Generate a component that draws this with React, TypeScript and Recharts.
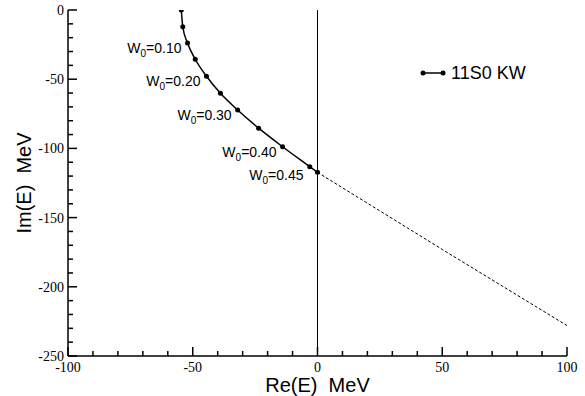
import React from "react";
import {
  ComposedChart,
  Line,
  XAxis,
  YAxis,
  ReferenceLine,
  LabelList,
  Legend,
} from "recharts";

// trajectory of the pole, W0 stepping upward
const reE = [-54.6, -54.0, -52.1, -49.0, -44.5, -38.9, -32.0, -23.6, -14.0, -3.1, 0];
const imE = [0, -12.1, -23.8, -35.6, -47.9, -60.2, -72.3, -85.4, -98.8, -113.2, -117.3];
const w0Labels = [null, null, "0.10", null, "0.20", null, "0.30", null, "0.40", null, "0.45"];

// dashed continuation
const extRe = [0, 50, 100];
const extIm = [-117.3, -173, -228];

const xTicks = [-100, -90, -80, -70, -60, -50, -40, -30, -20, -10, 0, 10, 20, 30, 40, 50, 60, 70, 80, 90, 100];
const xMajor = [-100, -50, 0, 50, 100];
const yTicks = [
  -250, -240, -230, -220, -210, -200, -190, -180, -170, -160, -150, -140, -130, -120, -110,
  -100, -90, -80, -70, -60, -50, -40, -30, -20, -10, 0,
];
const yMajor = [-250, -200, -150, -100, -50, 0];

const curve = reE.map((re, i) => ({ re, im: imE[i], w0: w0Labels[i] }));
const dashed = extRe.map((re, i) => ({ re, im: extIm[i] }));

const SERIF = '"Liberation Serif", "Times New Roman", Times, "DejaVu Serif", serif';
const SANS = '"Liberation Sans", Arial, Helvetica, sans-serif';

const serifStyle = { fontFamily: SERIF, fontSize: 14, fill: "#000" };
const sansStyle = { fontFamily: SANS, fill: "#000" };

function makeTick(side: "bottom" | "top" | "left" | "right", major: number[]) {
  return (props: any) => {
    const { x, y, payload } = props;
    const v = payload.value;
    const isMajor = major.includes(v);
    const len = isMajor ? 9 : 5;
    let line;
    let label = null;
    if (side === "bottom") {
      line = <line x1={x} y1={y} x2={x} y2={y - len} stroke="#000" strokeWidth={1.5} />;
      if (isMajor)
        label = (
          <text x={x} y={y + 16} textAnchor="middle" style={serifStyle}>
            {v}
          </text>
        );
    } else if (side === "top") {
      line = <line x1={x} y1={y} x2={x} y2={y + len} stroke="#000" strokeWidth={1.5} />;
    } else if (side === "left") {
      line = <line x1={x} y1={y} x2={x + len} y2={y} stroke="#000" strokeWidth={1.5} />;
      if (isMajor)
        label = (
          <text x={x - 4} y={y + 5} textAnchor="end" style={serifStyle}>
            {v}
          </text>
        );
    } else {
      line = <line x1={x} y1={y} x2={x - len} y2={y} stroke="#000" strokeWidth={1.5} />;
    }
    return (
      <g>
        {line}
        {label}
      </g>
    );
  };
}

const XTitle = (props: any) => {
  const { x, y, width } = props.viewBox;
  return (
    <text x={x + width / 2} y={y + 36} textAnchor="middle" xmlSpace="preserve" style={{ ...sansStyle, fontSize: 20 }}>
      {"Re(E)  MeV"}
    </text>
  );
};

const YTitle = (props: any) => {
  const { y, height } = props.viewBox;
  const cx = 31;
  const cy = y + height / 2;
  return (
    <text
      x={cx}
      y={cy}
      textAnchor="middle"
      xmlSpace="preserve"
      transform={`rotate(-90, ${cx}, ${cy})`}
      style={{ ...sansStyle, fontSize: 20 }}
    >
      {"Im(E)  MeV"}
    </text>
  );
};

const W0Label = (props: any) => {
  const { x, y, value } = props;
  if (!value) return null;
  const last = value === "0.45";
  const dx = last ? -14 : -6;
  const dy = last ? 3 : 5;
  return (
    <text x={x + dx} y={y + dy + 5} textAnchor="end" style={{ ...sansStyle, fontSize: 14 }}>
      W
      <tspan style={{ fontSize: 10 }} dy={4}>0</tspan>
      <tspan dy={-4}>={value}</tspan>
    </text>
  );
};

const LegendBox = () => (
  <svg width={120} height={22}>
    <line x1={5} y1={11} x2={25} y2={11} stroke="#000" strokeWidth={1.5} />
    <circle cx={5} cy={11} r={2.5} fill="#000" />
    <circle cx={25} cy={11} r={2.5} fill="#000" />
    <text x={33} y={17} style={{ ...sansStyle, fontSize: 18 }}>
      11S0 KW
    </text>
  </svg>
);

export default function App() {
  return (
    <div style={{ position: "absolute", left: 0, top: 0, width: 585, height: 396, background: "#fff" }}>
      <ComposedChart width={585} height={396} margin={{ top: 10, right: 18, bottom: 0, left: 0 }}>
        <XAxis
          dataKey="re"
          type="number"
          domain={[-100, 100]}
          allowDataOverflow
          ticks={xTicks}
          interval={0}
          height={40}
          tickSize={0}
          tickMargin={0}
          axisLine={{ stroke: "#000", strokeWidth: 1.5 }}
          tickLine={false}
          tick={makeTick("bottom", xMajor)}
          label={<XTitle />}
        />
        <XAxis
          xAxisId="top"
          orientation="top"
          type="number"
          domain={[-100, 100]}
          allowDataOverflow
          ticks={xTicks}
          interval={0}
          height={0}
          tickSize={0}
          tickMargin={0}
          axisLine={{ stroke: "#000", strokeWidth: 1.5 }}
          tickLine={false}
          tick={makeTick("top", xMajor)}
        />
        <YAxis
          dataKey="im"
          type="number"
          domain={[-250, 0]}
          allowDataOverflow
          ticks={yTicks}
          interval={0}
          width={68}
          tickSize={0}
          tickMargin={0}
          axisLine={{ stroke: "#000", strokeWidth: 1.5 }}
          tickLine={false}
          tick={makeTick("left", yMajor)}
          label={<YTitle />}
        />
        <YAxis
          yAxisId="right"
          orientation="right"
          type="number"
          domain={[-250, 0]}
          allowDataOverflow
          ticks={yTicks}
          interval={0}
          width={0}
          tickSize={0}
          tickMargin={0}
          axisLine={{ stroke: "#000", strokeWidth: 1.5 }}
          tickLine={false}
          tick={makeTick("right", yMajor)}
        />
        <ReferenceLine x={0} stroke="#000" strokeWidth={1} />
        <Line
          data={dashed}
          dataKey="im"
          type="linear"
          stroke="#000"
          strokeWidth={1}
          strokeDasharray="3 2"
          dot={false}
          activeDot={false}
          isAnimationActive={false}
          legendType="none"
        />
        <Line
          data={curve}
          dataKey="im"
          name="11S0 KW"
          type="monotone"
          stroke="#000"
          strokeWidth={1.5}
          dot={{ r: 2.5, fill: "#000", stroke: "#000", strokeWidth: 0 }}
          activeDot={false}
          isAnimationActive={false}
        >
          <LabelList dataKey="w0" content={W0Label} />
        </Line>
        <Legend
          layout="horizontal"
          verticalAlign="middle"
          align="center"
          content={LegendBox}
          wrapperStyle={{ left: 418, top: 62, width: 120, height: 22 }}
        />
      </ComposedChart>
    </div>
  );
}
